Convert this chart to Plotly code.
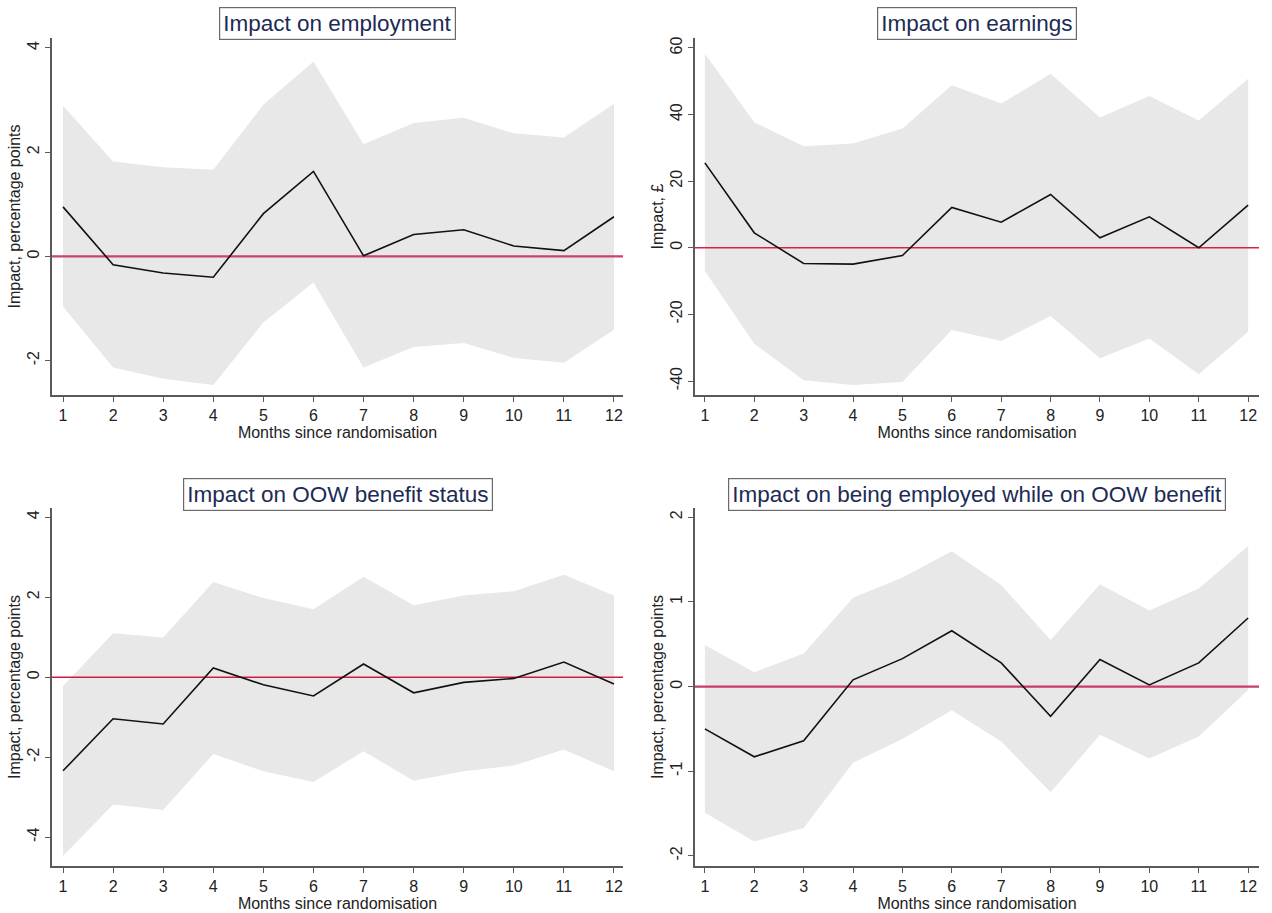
import plotly.graph_objects as go

months = list(range(1, 13))

# Impact on employment (percentage points)
emp_est = [0.95, -0.16, -0.32, -0.40, 0.82, 1.63, 0.01, 0.42, 0.51, 0.20, 0.11, 0.76]
emp_hi = [2.89, 1.82, 1.71, 1.66, 2.91, 3.74, 2.15, 2.56, 2.66, 2.36, 2.28, 2.93]
emp_lo = [-0.96, -2.13, -2.35, -2.47, -1.27, -0.50, -2.13, -1.74, -1.66, -1.95, -2.04, -1.41]

# Impact on earnings (GBP)
earn_est = [25.5, 4.5, -4.7, -4.9, -2.3, 12.1, 7.7, 16.0, 3.0, 9.3, 0.0, 12.8]
earn_hi = [58.3, 37.7, 30.5, 31.3, 35.8, 48.8, 43.3, 52.3, 39.1, 45.6, 38.2, 50.8]
earn_lo = [-7.0, -28.8, -39.8, -41.2, -40.3, -24.7, -28.0, -20.5, -33.2, -27.2, -38.0, -25.2]

# Impact on OOW benefit status (percentage points)
oow_est = [-2.34, -1.04, -1.17, 0.23, -0.19, -0.47, 0.33, -0.39, -0.13, -0.03, 0.38, -0.17]
oow_hi = [-0.22, 1.10, 0.99, 2.38, 1.98, 1.70, 2.51, 1.80, 2.04, 2.15, 2.56, 2.04]
oow_lo = [-4.47, -3.18, -3.32, -1.92, -2.35, -2.62, -1.85, -2.59, -2.35, -2.21, -1.81, -2.35]

# Impact on being employed while on OOW benefit (percentage points)
both_est = [-0.50, -0.83, -0.64, 0.08, 0.33, 0.66, 0.28, -0.35, 0.32, 0.02, 0.28, 0.81]
both_hi = [0.49, 0.17, 0.39, 1.05, 1.29, 1.60, 1.20, 0.55, 1.21, 0.90, 1.16, 1.66]
both_lo = [-1.49, -1.83, -1.67, -0.90, -0.62, -0.28, -0.65, -1.25, -0.57, -0.85, -0.59, -0.04]

titles = [
    "Impact on employment",
    "Impact on earnings",
    "Impact on OOW benefit status",
    "Impact on being employed while on OOW benefit",
]
y_titles = [
    "Impact, percentage points",
    "Impact, £",
    "Impact, percentage points",
    "Impact, percentage points",
]
y_ticks = [
    [-2, 0, 2, 4],
    [-40, -20, 0, 20, 40, 60],
    [-4, -2, 0, 2, 4],
    [-2, -1, 0, 1, 2],
]
y_ranges = [
    [-2.66, 4.19],
    [-44.2, 63.0],
    [-4.72, 4.23],
    [-2.12, 2.11],
]
x_ranges = [[0.78, 12.18], [0.80, 12.22], [0.78, 12.18], [0.80, 12.22]]
series = [
    (emp_est, emp_hi, emp_lo),
    (earn_est, earn_hi, earn_lo),
    (oow_est, oow_hi, oow_lo),
    (both_est, both_hi, both_lo),
]
zero_style = [
    dict(color="#c9456f", width=2.2),
    dict(color="#dc1f48", width=1.5),
    dict(color="#d21a42", width=1.5),
    dict(color="#c73d66", width=2.2),
]

W, H = 1272, 913
x_domains = [[52 / W, 623 / W], [695 / W, 1259 / W], [52 / W, 623 / W], [695 / W, 1259 / W]]
y_domains = [
    [1 - 395 / H, 1 - 38 / H],
    [1 - 395 / H, 1 - 38 / H],
    [1 - 866 / H, 1 - 508 / H],
    [1 - 866 / H, 1 - 508 / H],
]
title_y = [1 - 23 / H, 1 - 23 / H, 1 - 494 / H, 1 - 494 / H]

FONT = "Liberation Sans, Arial, sans-serif"
AXIS_COLOR = "#5a5a5a"

fig = go.Figure()
layout = dict(
    width=W,
    height=H,
    margin=dict(l=0, r=0, t=0, b=0),
    paper_bgcolor="white",
    plot_bgcolor="white",
    showlegend=False,
    font=dict(family=FONT, size=16, color="#222222"),
    annotations=[],
)

for i, (est, hi, lo) in enumerate(series):
    n = "" if i == 0 else str(i + 1)
    xa, ya = "x" + n, "y" + n

    # confidence band as a closed polygon: upper bound then lower bound reversed
    fig.add_trace(go.Scatter(
        x=months + months[::-1],
        y=hi + lo[::-1],
        fill="toself",
        fillcolor="#e8e8e8",
        line=dict(width=0, color="rgba(0,0,0,0)"),
        mode="lines",
        hoverinfo="skip",
        xaxis=xa, yaxis=ya,
    ))
    # zero reference line across the full axis width
    fig.add_trace(go.Scatter(
        x=x_ranges[i],
        y=[0, 0],
        mode="lines",
        line=zero_style[i],
        hoverinfo="skip",
        xaxis=xa, yaxis=ya,
    ))
    # point estimates
    fig.add_trace(go.Scatter(
        x=months,
        y=est,
        mode="lines",
        line=dict(color="#111111", width=1.6),
        xaxis=xa, yaxis=ya,
    ))

    layout["xaxis" + n] = dict(
        domain=x_domains[i],
        anchor=ya,
        range=x_ranges[i],
        tickvals=months,
        ticktext=[str(m) for m in months],
        ticks="outside",
        ticklen=5,
        tickcolor=AXIS_COLOR,
        showline=True,
        linecolor=AXIS_COLOR,
        linewidth=1.5,
        showgrid=False,
        zeroline=False,
        tickfont=dict(size=16, color="#222222"),
        title=dict(text="Months since randomisation", font=dict(size=16, color="#222222"), standoff=2),
    )
    layout["yaxis" + n] = dict(
        domain=y_domains[i],
        anchor=xa,
        range=y_ranges[i],
        tickvals=y_ticks[i],
        ticktext=[str(v) for v in y_ticks[i]],
        tickangle=-90,
        ticks="outside",
        ticklen=5,
        tickcolor=AXIS_COLOR,
        showline=True,
        linecolor=AXIS_COLOR,
        linewidth=1.5,
        showgrid=False,
        zeroline=False,
        tickfont=dict(size=16, color="#222222"),
        title=dict(text=y_titles[i], font=dict(size=16, color="#222222"), standoff=0),
    )
    layout["annotations"].append(dict(
        text=titles[i],
        xref="paper", yref="paper",
        x=sum(x_domains[i]) / 2,
        y=title_y[i],
        xanchor="center", yanchor="middle",
        showarrow=False,
        font=dict(family=FONT, size=22.5, color="#1c2b55"),
        bgcolor="white",
        bordercolor="#6a6a6a",
        borderwidth=1.2,
        borderpad=3,
    ))

fig.update_layout(**layout)
fig.write_html("out.html")
